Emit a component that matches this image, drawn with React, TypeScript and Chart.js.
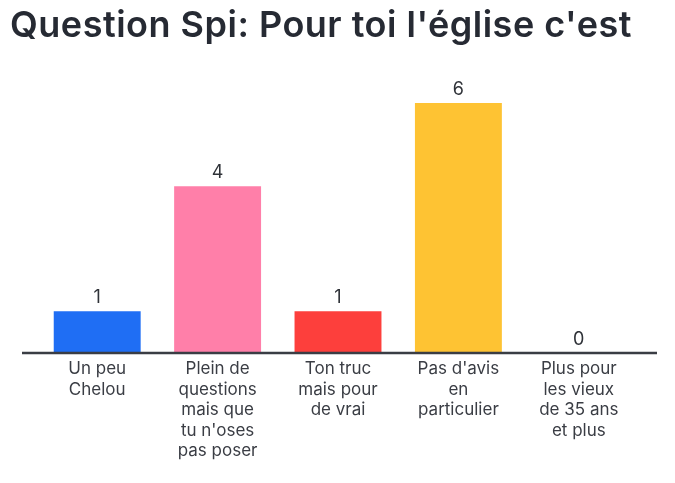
import React, { useEffect, useRef } from "react";
import { Chart, registerables } from "chart.js";

Chart.register(...registerables);

const titleText = "Question Spi: Pour toi l'église c'est";
const categories: string[][] = [
  ["Un peu", "Chelou"],
  ["Plein de", "questions", "mais que", "tu n'oses", "pas poser"],
  ["Ton truc", "mais pour", "de vrai"],
  ["Pas d'avis", "en", "particulier"],
  ["Plus pour", "les vieux", "de 35 ans", "et plus"],
];
const values = [1, 4, 1, 6, 0];
const colors = ["#1f6ef4", "#ff7fa9", "#fd3f3c", "#fec333"];

export default function App() {
  const ref = useRef<HTMLCanvasElement | null>(null);
  useEffect(() => {
    if (!ref.current) return;
    const decor = {
      id: "decor",
      afterDatasetsDraw(chart: any) {
        const ctx = chart.ctx;
        const y0 = chart.scales.y.getPixelForValue(0);
        ctx.save();
        ctx.strokeStyle = "#3a3d44";
        ctx.lineWidth = 2.5;
        ctx.beginPath();
        ctx.moveTo(22, y0);
        ctx.lineTo(657, y0);
        ctx.stroke();
        const meta = chart.getDatasetMeta(0);
        ctx.fillStyle = "#2f3238";
        ctx.font = "18px Inter";
        ctx.textAlign = "center";
        ctx.textBaseline = "alphabetic";
        meta.data.forEach((bar: any, i: number) => {
          ctx.fillText(String(values[i]), bar.x, bar.y - 8);
        });
        ctx.fillStyle = "#262a33";
        ctx.font = "600 36px Inter";
        ctx.textAlign = "left";
        (ctx as any).letterSpacing = "0.5px";
        ctx.fillText(titleText, 10, 37);
        ctx.restore();
      },
    };
    const chart = new Chart(ref.current, {
      type: "bar",
      data: {
        labels: categories,
        datasets: [
          {
            data: values,
            backgroundColor: colors,
            barPercentage: 0.722,
            categoryPercentage: 1,
          },
        ],
      },
      options: {
        animation: false,
        responsive: false,
        layout: { padding: { top: 103, left: 37, right: 36, bottom: 0 } },
        plugins: { legend: { display: false }, tooltip: { enabled: false }, title: { display: false } },
        scales: {
          y: { display: false, min: 0, max: 6 },
          x: {
            grid: { display: false, drawTicks: false },
            border: { display: false },
            ticks: {
              color: "#3a3d44",
              font: { family: "Inter", size: 17, lineHeight: 1.2 },
              padding: 6,
              maxRotation: 0,
              autoSkip: false,
            },
            afterFit: (scale: any) => {
              scale.height = 130;
            },
          },
        },
      },
      plugins: [decor],
    });
    return () => chart.destroy();
  }, []);
  return (
    <div style={{ position: "fixed", left: 0, top: 0, width: 675, height: 483, background: "#fff" }}>
      <canvas ref={ref} width={675} height={483} style={{ width: 675, height: 483 }} />
    </div>
  );
}
